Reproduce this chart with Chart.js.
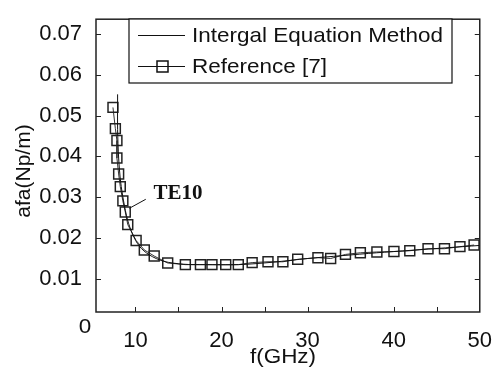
<!DOCTYPE html>
<html>
<head>
<meta charset="utf-8">
<script src="https://cdn.jsdelivr.net/npm/chart.js@4/dist/chart.umd.min.js"></script>
<style>
  html, body { margin: 0; padding: 0; background: #fff; }
</style>
</head>
<body>
<canvas id="c" width="500" height="373"></canvas>
<script>
// Integral equation method (solid line)
const freqIem = [7.93, 7.93, 8.05, 8.28, 8.62, 9.08, 9.66, 10.46, 11.6, 13.3, 15.6, 18, 22, 26, 30, 34, 38, 42, 46, 50];
const alphaIem = [0.0552, 0.0466, 0.0396, 0.0338, 0.0291, 0.0245, 0.0210, 0.0180, 0.0159, 0.0143, 0.0136, 0.0135, 0.0135, 0.0141, 0.0150, 0.0157, 0.0164, 0.0170, 0.0176, 0.0182];

// Reference [7] (square markers)
const freqRef = [7.39, 7.67, 7.85, 7.85, 8.05, 8.24, 8.54, 8.82, 9.11, 10.08, 11.03, 12.18, 13.75, 15.8, 17.55, 18.89, 20.49, 21.95, 23.56, 25.4, 27.13, 28.85, 31.2, 32.68, 34.4, 36.13, 38.05, 40.03, 41.87, 43.99, 45.9, 47.7, 49.34];
const alphaRef = [0.0520, 0.0468, 0.0439, 0.0396, 0.0357, 0.0326, 0.0291, 0.0264, 0.0233, 0.0194, 0.0171, 0.0156, 0.0139, 0.0135, 0.0135, 0.0135, 0.0135, 0.0135, 0.0140, 0.0142, 0.0142, 0.0148, 0.0152, 0.0150, 0.0160, 0.0164, 0.0166, 0.0167, 0.0169, 0.0174, 0.0174, 0.0179, 0.0183];

const seriesNames = ["Intergal Equation Method", "Reference [7]"];
const xTicks = [10, 20, 30, 40, 50];
const xMinorTicks = [10, 15, 20, 25, 30, 35, 40, 45];
const yTicks = [0.01, 0.02, 0.03, 0.04, 0.05, 0.06, 0.07];

const font = "Liberation Sans, Arial, sans-serif";

function toPoints(xs, ys) {
  return xs.map((x, i) => ({x: x, y: ys[i]}));
}

// text a bit wider than the font, like the scanned original
function wideText(ctx, txt, x, y, k) {
  ctx.save();
  ctx.translate(x, y);
  ctx.scale(k, 1);
  ctx.fillText(txt, 0, 0);
  ctx.restore();
}

const decorations = {
  id: 'decorations',
  afterDraw(chart) {
    const ctx = chart.ctx;
    const a = chart.chartArea;
    const sx = chart.scales.x, sy = chart.scales.y;
    ctx.save();

    // frame
    ctx.strokeStyle = '#222';
    ctx.lineWidth = 1.5;
    ctx.strokeRect(a.left, a.top, a.right - a.left, a.bottom - a.top);

    // inward ticks
    ctx.lineWidth = 1;
    ctx.beginPath();
    xMinorTicks.forEach(v => {
      const px = Math.round(sx.getPixelForValue(v)) + 0.5;
      ctx.moveTo(px, a.bottom); ctx.lineTo(px, a.bottom - 5);
      ctx.moveTo(px, a.top); ctx.lineTo(px, a.top + 5);
    });
    yTicks.forEach(v => {
      const py = Math.round(sy.getPixelForValue(v)) + 0.5;
      ctx.moveTo(a.left, py); ctx.lineTo(a.left + 5, py);
      ctx.moveTo(a.right, py); ctx.lineTo(a.right - 5, py);
    });
    ctx.stroke();

    // legend box
    const lx = 129, ly = 19, lw = 323, lh = 64;
    ctx.fillStyle = '#fff';
    ctx.fillRect(lx, ly, lw, lh);
    ctx.strokeStyle = '#111';
    ctx.lineWidth = 1.2;
    ctx.strokeRect(lx, ly, lw, lh);
    ctx.lineWidth = 1;
    ctx.beginPath();
    ctx.moveTo(138, 35.5); ctx.lineTo(185, 35.5);
    ctx.moveTo(138, 66.5); ctx.lineTo(185, 66.5);
    ctx.stroke();
    ctx.lineWidth = 1.5;
    ctx.strokeRect(157, 61, 11, 11);
    ctx.fillStyle = '#111';
    ctx.font = '21px ' + font;
    ctx.textBaseline = 'middle';
    ctx.textAlign = 'left';
    wideText(ctx, seriesNames[0], 192, 36, 1.07);
    wideText(ctx, seriesNames[1], 192, 67, 1.07);

    // TE10 annotation
    ctx.font = 'bold 21px Liberation Serif, Times New Roman, serif';
    ctx.textAlign = 'center';
    ctx.fillText('TE10', sx.getPixelForValue(14.95), sy.getPixelForValue(0.0310));
    ctx.lineWidth = 1;
    ctx.beginPath();
    ctx.moveTo(sx.getPixelForValue(11.2), sy.getPixelForValue(0.0295));
    ctx.lineTo(sx.getPixelForValue(9.3), sy.getPixelForValue(0.0273));
    ctx.stroke();

    // axis titles and stray zero
    ctx.font = '21px ' + font;
    wideText(ctx, 'f(GHz)', 283, 357, 1.07);
    wideText(ctx, '0', 85, 327, 1.07);
    ctx.translate(24, 171);
    ctx.rotate(-Math.PI / 2);
    ctx.fillText('afa(Np/m)', 0, 0);
    ctx.restore();
  }
};

new Chart(document.getElementById('c'), {
  type: 'scatter',
  data: {
    datasets: [
      {
        label: seriesNames[0],
        data: toPoints(freqIem, alphaIem),
        showLine: true,
        borderColor: '#111',
        borderWidth: 1,
        pointRadius: 0,
        tension: 0.3
      },
      {
        label: seriesNames[1],
        data: toPoints(freqRef, alphaRef),
        showLine: true,
        borderColor: '#333',
        borderWidth: 1,
        pointStyle: 'rect',
        pointRadius: 7,
        pointBorderWidth: 1.5,
        pointBorderColor: '#222',
        pointBackgroundColor: 'rgba(0,0,0,0)'
      }
    ]
  },
  options: {
    responsive: false,
    animation: false,
    devicePixelRatio: 1,
    layout: { padding: { top: 4, right: 15, left: 0, bottom: 0 } },
    plugins: { legend: { display: false }, tooltip: { enabled: false } },
    scales: {
      x: {
        type: 'linear',
        min: 5.42,
        max: 50,
        afterBuildTicks: s => { s.ticks = xTicks.map(v => ({value: v})); },
        afterFit: s => { s.height = 61; },
        grid: { display: false },
        border: { display: false },
        ticks: { color: '#111', padding: 8, font: { family: font, size: 22 }, callback: v => String(v) }
      },
      y: {
        type: 'linear',
        min: 0.0019,
        max: 0.0736,
        afterBuildTicks: s => { s.ticks = yTicks.map(v => ({value: v})); },
        afterFit: s => { s.width = 96; },
        grid: { display: false },
        border: { display: false },
        ticks: { color: '#111', padding: 6, font: { family: font, size: 22 }, callback: v => v.toFixed(2) }
      }
    }
  },
  plugins: [decorations]
});
</script>
</body>
</html>
